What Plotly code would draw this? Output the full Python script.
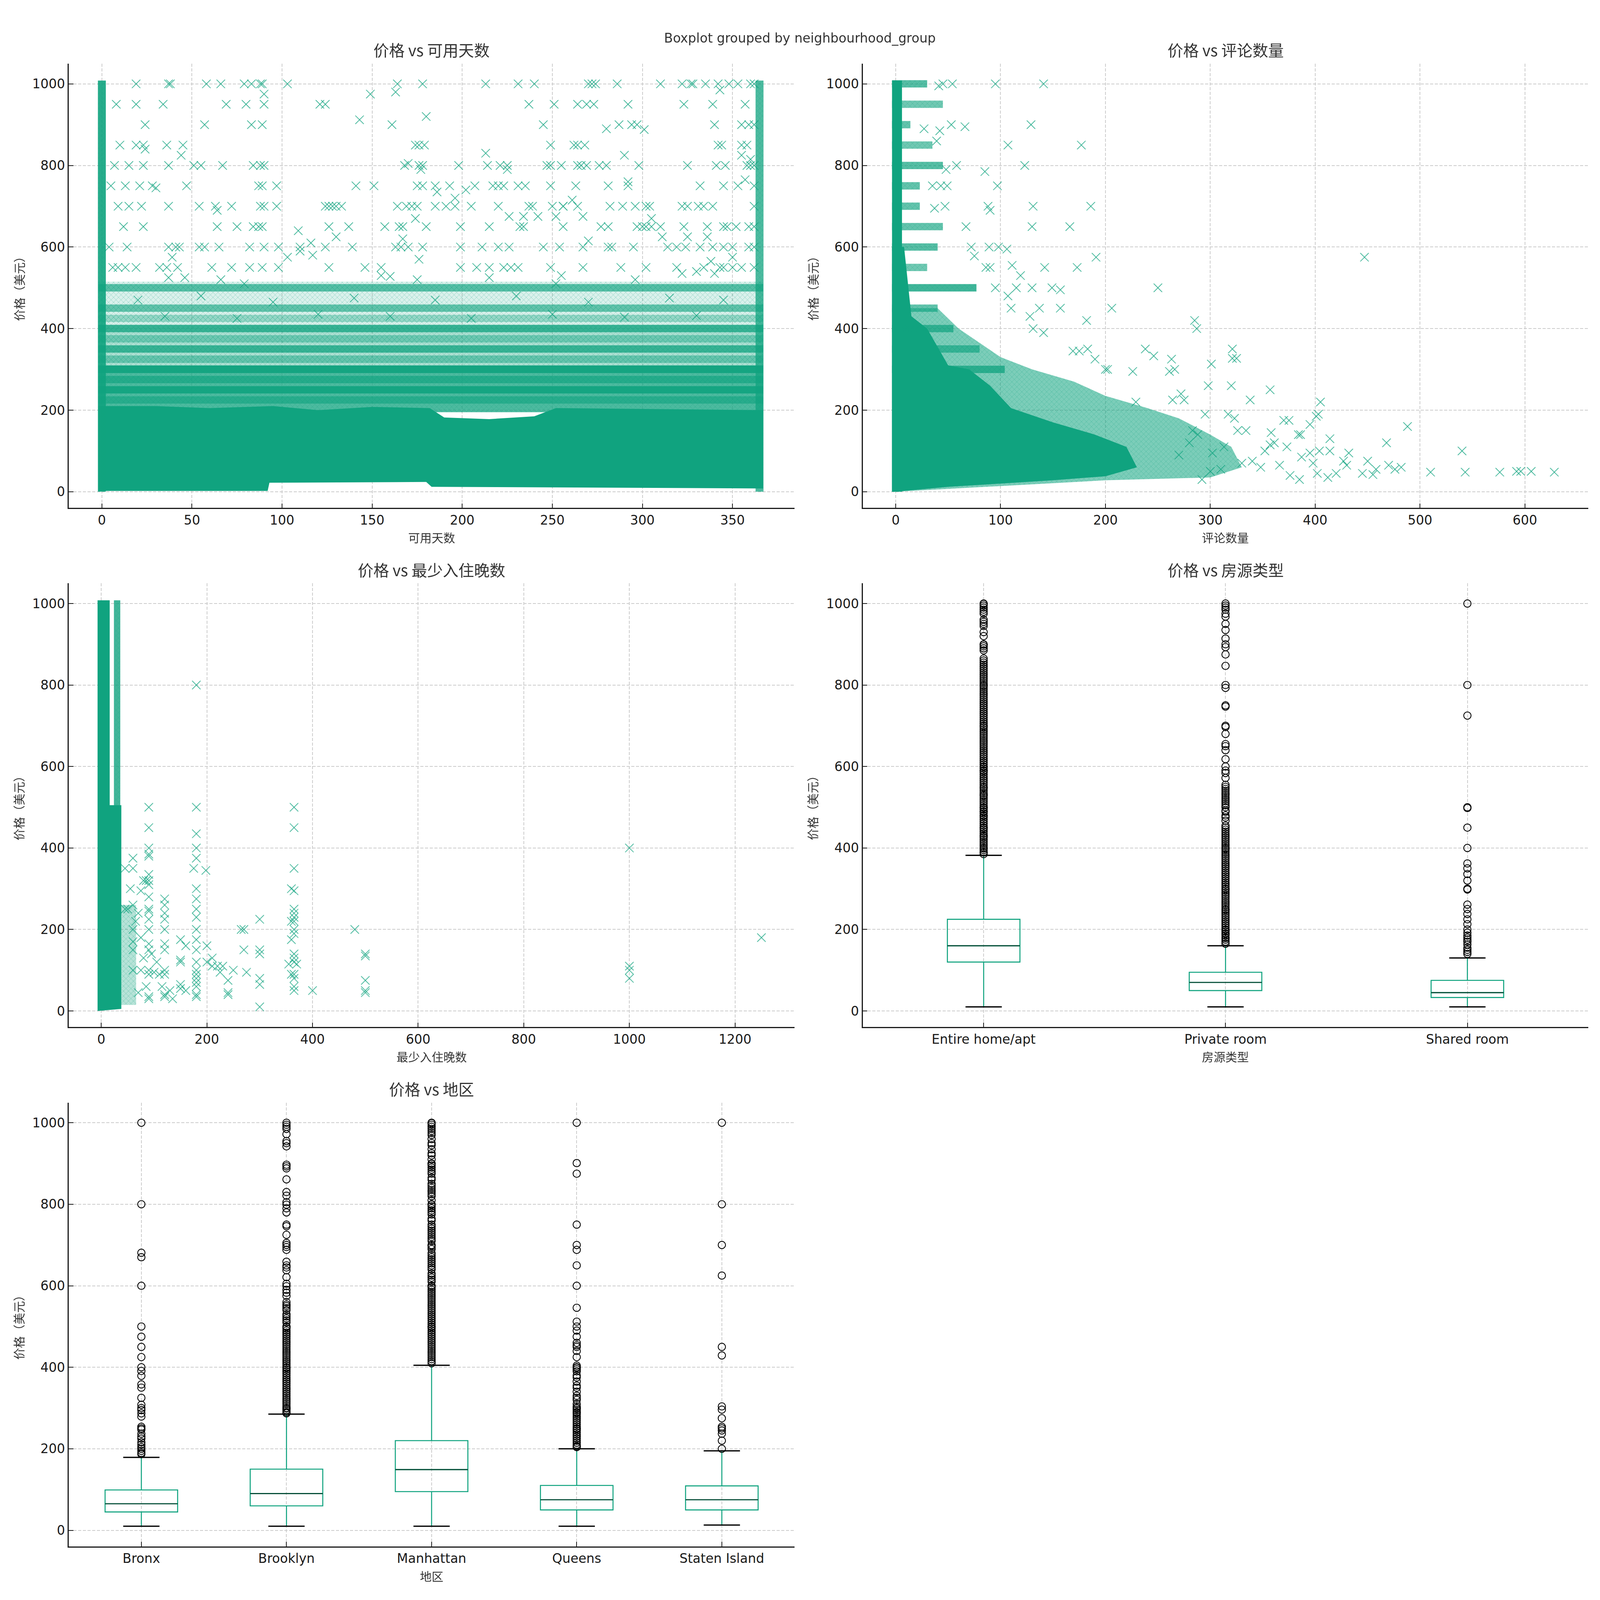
import plotly.graph_objects as go

GREEN = "#10A37F"
GREEN_RGB = "16,163,127"
MEDIAN = "#00452f"
INK = "#1a1a1a"
TITLE_INK = "#333333"
CJK = "Noto Sans CJK SC"

# ---------------- 价格 vs 可用天数 ----------------
# solid core of the cloud (availability_365, price)
avail_solid_days = [-2, 92, 93, 180, 183, 367, 367, 252, 240, 215, 190, 182, 150, 120, 95, 60, 30, -2]
avail_solid_price = [2, 2, 22, 24, 12, 8, 200, 205, 185, 178, 182, 205, 208, 200, 210, 205, 210, 210]
# dense but not solid layers
avail_layer_days = [[-2, 367, 367, -2]] * 3
avail_layer_price = [[195, 195, 310, 310], [305, 305, 410, 410], [410, 410, 515, 515]]
avail_layer_density = [0.75, 0.35, 0.15]
# price rows where many listings pile up
avail_band_price = [225, 250, 275, 300, 325, 350, 375, 400, 425, 450, 500]
avail_band_density = [0.6, 0.9, 0.65, 0.92, 0.45, 0.75, 0.4, 0.75, 0.35, 0.6, 0.65]
# availability values with listings at every price
avail_col_days = [0, 365]
avail_col_density = [0.9, 0.75]
# sparse points on round prices
avail_row_levels = [1000, 950, 900, 850, 800, 750, 700, 650, 600, 550]
avail_row_days = [
    [19, 37, 38, 58, 66, 79, 83, 88, 89, 103, 164, 178, 213, 231, 240, 270, 272, 274, 286, 310, 322, 327, 328,
     335, 342, 348, 353, 360, 362],
    [8, 19, 34, 69, 80, 90, 121, 124, 237, 251, 264, 269, 273, 292, 323, 339, 357],
    [24, 57, 83, 89, 161, 245, 287, 294, 297, 340, 355, 359, 362],
    [10, 19, 23, 36, 45, 174, 176, 179, 249, 262, 264, 268, 342, 344, 355, 358],
    [7, 15, 23, 37, 51, 55, 67, 84, 88, 90, 168, 176, 178, 198, 214, 221, 225, 247, 249, 255, 264, 266, 269, 276,
     280, 298, 325, 341, 346, 358, 360, 362],
    [5, 13, 21, 28, 47, 87, 89, 97, 141, 151, 175, 178, 185, 193, 207, 217, 220, 223, 231, 235, 249, 263, 281, 292,
     332, 345, 353, 362],
    [9, 15, 22, 37, 54, 63, 72, 88, 90, 97, 124, 126, 128, 130, 133, 164, 169, 172, 175, 185, 191, 196, 205, 220,
     237, 239, 250, 256, 264, 282, 289, 296, 302, 304, 322, 325, 331, 334, 339, 362],
    [12, 23, 64, 75, 84, 87, 89, 126, 137, 157, 165, 167, 180, 199, 215, 232, 234, 256, 277, 281, 297, 300, 302,
     305, 310, 323, 336, 345, 347, 352, 359, 362],
    [4, 14, 37, 41, 43, 54, 57, 65, 82, 90, 98, 110, 124, 139, 163, 166, 170, 178, 199, 211, 220, 226, 245, 254,
     267, 281, 283, 295, 314, 319, 324, 332, 339, 345, 350, 359, 362],
    [6, 9, 13, 19, 32, 36, 42, 61, 72, 82, 89, 98, 126, 146, 155, 199, 208, 215, 223, 227, 231, 249, 267, 288,
     302, 319, 334, 345, 350, 355, 362],
]
# sparse points off the round prices
avail_extra = [
    (149, 975), (163, 980), (343, 985), (90, 975), (143, 912), (180, 920), (280, 890), (301, 888),
    (213, 830), (290, 825), (44, 825), (355, 825), (360, 815), (170, 805), (225, 790), (177, 790), (24, 840),
    (186, 735), (202, 740), (196, 720), (261, 715), (256, 700), (357, 765), (292, 760), (30, 745),
    (226, 675), (234, 675), (242, 675), (252, 675), (267, 675), (305, 670), (109, 640), (130, 625),
    (311, 625), (336, 625), (167, 620), (64, 690), (174, 670), (39, 575), (110, 590), (103, 575),
    (116, 610), (270, 615), (325, 625), (350, 575), (343, 550), (338, 565), (330, 540), (117, 580),
    (176, 570), (46, 525), (37, 525), (66, 520), (79, 510), (155, 530), (160, 528), (175, 520),
    (215, 525), (255, 530), (252, 510), (296, 520), (322, 535), (340, 535),
    (20, 470), (55, 480), (95, 465), (140, 475), (185, 470), (230, 480), (270, 465), (315, 475), (345, 470),
    (35, 430), (75, 425), (120, 435), (160, 430), (205, 425), (250, 435), (290, 428), (330, 432),
]

# ---------------- 价格 vs 评论数量 ----------------
review_solid_count = [-3.5, 8, 15, 30, 50, 70, 90, 110, 150, 190, 220, 230, 200, 150, 100, 50, 0, -3.5]
review_solid_price = [600, 600, 430, 400, 310, 300, 260, 205, 170, 140, 110, 60, 38, 28, 20, 12, 0, 0]
review_hatch_count = [-3.5, 40, 60, 100, 130, 170, 200, 240, 270, 300, 320, 330, 300, 200, 0, -3.5]
review_hatch_price = [450, 450, 400, 330, 300, 270, 235, 205, 180, 140, 110, 60, 35, 28, 0, 0]
review_row_price = [1000, 950, 900, 850, 800, 750, 700, 650, 600, 550, 500, 450, 400, 350, 300]
review_row_end = [30, 45, 14, 35, 45, 23, 23, 45, 40, 30, 77, 40, 55, 80, 104]
review_row_density = [0.7, 0.6, 0.65, 0.6, 0.7, 0.65, 0.65, 0.65, 0.7, 0.6, 0.8, 0.65, 0.7, 0.65, 0.75]
review_points = [
    (95, 1000), (141, 1000), (54, 1000), (45, 1000), (41, 995),
    (129, 900), (53, 900), (66, 895), (27, 890), (42, 885),
    (107, 850), (177, 850), (39, 860), (123, 800), (85, 785), (58, 800), (48, 790),
    (97, 750), (49, 750), (43, 750), (35, 750), (131, 700), (186, 700), (88, 700), (90, 690), (47, 700),
    (37, 695), (130, 650), (166, 650), (67, 650), (191, 575), (447, 575), (89, 600), (98, 600), (106, 595),
    (72, 600), (75, 578), (111, 555), (142, 550), (173, 550), (86, 550), (90, 550), (119, 530),
    (250, 500), (157, 495), (149, 500), (130, 500), (115, 500), (107, 480), (95, 500),
    (206, 450), (157, 450), (137, 450), (110, 450), (182, 420), (285, 420), (287, 400), (141, 390),
    (131, 400), (128, 430), (238, 350), (321, 350), (246, 333), (321, 327), (325, 327), (263, 325),
    (183, 350), (169, 345), (175, 345), (301, 313), (200, 300), (202, 300), (226, 295), (266, 300),
    (261, 295), (190, 325), (298, 260), (320, 260), (357, 250), (338, 225), (275, 225), (229, 220),
    (264, 225), (272, 240), (405, 220), (403, 190), (401, 185), (395, 165), (358, 145), (370, 175),
    (375, 175), (326, 150), (334, 150), (317, 190), (323, 180), (488, 160), (468, 120), (414, 130),
    (386, 140), (384, 140), (361, 120), (404, 100), (414, 100), (432, 95), (540, 100),
    (510, 48), (543, 48), (576, 48), (592, 50), (596, 50), (606, 50), (628, 48),
    (445, 45), (455, 42), (458, 55), (470, 65), (476, 55), (482, 60), (450, 75), (427, 75), (430, 65),
    (420, 45), (412, 35), (402, 45), (385, 30), (376, 40), (366, 65), (387, 85), (352, 100), (340, 75),
    (330, 70), (348, 60), (395, 95), (398, 70), (373, 110), (357, 115), (292, 30), (300, 50), (310, 55),
    (313, 110), (302, 95), (288, 140), (283, 150), (295, 190), (280, 120), (270, 90),
]

# ---------------- 价格 vs 最少入住晚数 ----------------
nights_solid_min = [-7, -7, 16, 16, 38, 38, -7]
nights_solid_price = [0, 1008, 1008, 505, 505, 5, 0]
nights_hatch_min = [38, 66, 66, 38]
nights_hatch_price = [15, 15, 260, 260]
nights_col_min = [30]
nights_col_low = [500]
nights_col_high = [1008]
nights_points = [
    (180, 800), (90, 500), (180, 500), (365, 500), (90, 450), (365, 450), (180, 435), (90, 400),
    (180, 400), (90, 385), (90, 380), (180, 375), (1000, 400), (60, 375), (60, 350), (45, 350), (175, 350),
    (198, 345), (365, 350), (90, 335), (90, 320), (85, 320), (80, 320), (90, 310), (75, 295), (55, 300),
    (180, 300), (360, 300), (365, 295), (120, 275), (90, 280), (180, 275), (120, 260), (60, 260), (45, 250),
    (50, 250), (90, 250), (90, 245), (120, 240), (180, 250), (365, 250), (365, 240), (365, 230), (120, 225),
    (90, 225), (180, 230), (300, 225), (365, 220), (360, 220), (60, 200), (90, 200), (120, 200), (180, 200),
    (265, 200), (270, 200), (480, 200), (365, 200), (365, 190), (1250, 180), (150, 175), (180, 175),
    (360, 175), (160, 160), (200, 160), (120, 165), (90, 165), (60, 170), (60, 150), (90, 150), (120, 150),
    (180, 150), (270, 150), (300, 150), (300, 140), (500, 140), (500, 135), (365, 140), (365, 130),
    (365, 120), (355, 115), (370, 115), (150, 120), (150, 125), (180, 120), (200, 120), (210, 130),
    (220, 110), (225, 95), (230, 110), (250, 100), (275, 95), (210, 110), (1000, 110), (1000, 100),
    (1000, 80), (120, 100), (120, 90), (110, 90), (100, 95), (90, 100), (90, 90), (60, 100), (75, 100),
    (180, 100), (180, 90), (180, 80), (365, 90), (360, 90), (365, 80), (240, 75), (300, 80), (300, 65),
    (500, 75), (180, 70), (180, 60), (365, 60), (365, 50), (400, 50), (500, 50), (500, 45), (240, 45),
    (240, 40), (150, 65), (150, 55), (160, 50), (130, 50), (135, 30), (120, 40), (120, 35), (90, 35),
    (90, 30), (180, 40), (180, 35), (300, 10), (70, 240), (65, 220), (75, 180), (80, 130), (85, 60),
    (70, 45), (95, 140), (105, 120), (115, 60),
]

# ---------------- 价格 vs 房源类型 ----------------
room_types = ["Entire home/apt", "Private room", "Shared room"]
room_q1 = [120, 50, 33]
room_median = [160, 70, 45]
room_q3 = [225, 95, 75]
room_low = [10, 10, 10]
room_high = [382, 160, 130]
room_outliers = [
    [385, 389, 390, 395, 399, 400, 405, 410, 415, 420, 425, 429, 430, 435, 440, 445, 449, 450, 455, 460, 465,
     470, 475, 479, 480, 485, 489, 490, 495, 499, 500, 505, 510, 515, 520, 525, 529, 530, 535, 540, 545, 549,
     550, 555, 560, 565, 570, 575, 580, 585, 589, 590, 595, 599, 600, 605, 610, 615, 620, 625, 630, 635, 640,
     645, 650, 655, 660, 665, 670, 675, 680, 685, 690, 695, 699, 700, 705, 710, 715, 720, 725, 730, 735, 740,
     745, 750, 755, 760, 765, 770, 775, 780, 785, 790, 795, 799, 800, 805, 810, 815, 820, 825, 830, 835, 840,
     845, 850, 855, 860, 865, 885, 890, 895, 899, 900, 920, 930, 945, 950, 955, 960, 975, 980, 985, 990, 995,
     999, 1000],
    [165, 170, 175, 179, 180, 185, 189, 190, 195, 199, 200, 205, 210, 215, 220, 225, 230, 235, 240, 245, 249,
     250, 255, 260, 265, 270, 275, 280, 285, 290, 295, 299, 300, 305, 310, 315, 320, 325, 330, 335, 340, 345,
     350, 355, 360, 365, 370, 375, 380, 385, 390, 395, 399, 400, 405, 410, 415, 420, 425, 430, 435, 440, 445,
     450, 455, 467, 475, 480, 489, 492, 500, 505, 510, 515, 520, 525, 530, 535, 540, 545, 550, 555, 572, 584,
     590, 600, 618, 640, 650, 655, 680, 697, 700, 747, 750, 793, 800, 847, 875, 893, 900, 914, 935, 950, 968,
     975, 985, 990, 995, 1000],
    [140, 145, 150, 155, 163, 170, 175, 180, 185, 192, 200, 213, 225, 238, 250, 261, 298, 300, 320, 336, 350,
     362, 400, 450, 498, 500, 725, 800, 1000],
]

# ---------------- 价格 vs 地区 ----------------
hoods = ["Bronx", "Brooklyn", "Manhattan", "Queens", "Staten Island"]
hood_q1 = [45, 60, 95, 50, 50]
hood_median = [65, 90, 149, 75, 75]
hood_q3 = [99, 150, 220, 110, 109]
hood_low = [10, 10, 10, 10, 13]
hood_high = [179, 285, 405, 200, 195]
hood_outliers = [
    [187, 190, 195, 200, 204, 210, 216, 225, 230, 237, 247, 250, 254, 279, 287, 295, 300, 308, 325, 350, 358,
     379, 391, 400, 425, 450, 475, 500, 600, 670, 681, 800, 1000],
    [287, 290, 295, 299, 300, 305, 310, 315, 320, 325, 330, 335, 340, 345, 350, 355, 360, 365, 370, 375, 380,
     385, 390, 395, 399, 400, 405, 410, 415, 420, 425, 430, 435, 440, 445, 450, 455, 460, 465, 470, 475, 480,
     485, 490, 495, 499, 500, 510, 515, 520, 525, 530, 540, 545, 550, 554, 560, 575, 583, 590, 599, 605, 621,
     638, 645, 650, 659, 688, 695, 700, 705, 725, 746, 750, 780, 790, 799, 805, 821, 830, 861, 888, 893, 897,
     942, 950, 955, 972, 985, 990, 995, 1000],
    [410, 415, 420, 425, 430, 435, 440, 445, 450, 455, 460, 465, 470, 475, 480, 485, 490, 495, 499, 500, 505,
     510, 515, 520, 525, 530, 535, 540, 545, 550, 555, 560, 565, 570, 575, 580, 585, 590, 595, 599, 600, 610,
     615, 620, 625, 630, 640, 645, 650, 655, 660, 665, 670, 675, 680, 690, 695, 699, 700, 710, 715, 720, 725,
     730, 735, 740, 745, 750, 760, 765, 775, 780, 785, 790, 795, 799, 800, 810, 820, 825, 830, 835, 840, 845,
     850, 860, 865, 875, 880, 885, 890, 895, 899, 900, 910, 920, 925, 935, 945, 950, 960, 970, 975, 980, 985,
     990, 995, 999, 1000],
    [204, 206, 210, 215, 220, 225, 230, 235, 240, 245, 249, 250, 255, 260, 265, 270, 275, 280, 285, 289, 290,
     295, 299, 300, 304, 310, 320, 325, 330, 340, 350, 355, 365, 375, 380, 390, 395, 399, 400, 404, 425, 440,
     450, 454, 460, 475, 490, 500, 512, 546, 600, 650, 688, 700, 750, 875, 901, 1000],
    [200, 220, 237, 245, 250, 254, 275, 296, 304, 429, 450, 625, 700, 800, 1000],
]

# ---------------- geometry ----------------
# the page is shown in a 4096 x 4096 viewport; sizes below are the reference's
# 6000 x 5400 pixel sizes scaled to it
W, H = 4096, 4096
SX, SY = W / 6000, H / 5400
S = (SX + SY) / 2
COL_X = [[0.0430, 0.4965], [0.5392, 0.9927]]
ROW_Y = [[0.6826, 0.9602], [0.3581, 0.6354], [0.0335, 0.3109]]
HALF_MARK = 9  # half height of an x marker, in price units

fig = go.Figure()

MARK = dict(symbol="x-thin", size=30 * S, color=GREEN, line=dict(width=2.3 * S, color=GREEN))


def add_solid(xs, ys, xa, ya):
    fig.add_trace(go.Scatter(x=xs, y=ys, mode="lines", fill="toself", fillcolor=GREEN,
                             line=dict(width=0, color=GREEN), xaxis=xa, yaxis=ya,
                             hoverinfo="skip", showlegend=False))


def add_dense(xs, ys, xa, ya, density):
    # region covered by many overlapping x markers: a tinted fill with a light x texture
    fig.add_trace(go.Scatter(x=xs, y=ys, mode="lines", fill="toself",
                             fillcolor=f"rgba({GREEN_RGB},{density})",
                             fillpattern=dict(shape="x", fgcolor=GREEN, bgcolor=f"rgba({GREEN_RGB},{density})",
                                              size=9, solidity=0.15),
                             line=dict(width=0, color=GREEN), xaxis=xa, yaxis=ya,
                             hoverinfo="skip", showlegend=False))


def add_row(x0, x1, price, xa, ya, density):
    add_dense([x0, x1, x1, x0], [price - HALF_MARK, price - HALF_MARK, price + HALF_MARK, price + HALF_MARK],
              xa, ya, density)


def add_points(xs, ys, xa, ya):
    fig.add_trace(go.Scatter(x=xs, y=ys, mode="markers", marker=MARK, opacity=0.9,
                             xaxis=xa, yaxis=ya, showlegend=False))


# panel 1
for d, p, so in zip(avail_layer_days, avail_layer_price, avail_layer_density):
    add_dense(d, p, "x", "y", so)
add_solid(avail_solid_days, avail_solid_price, "x", "y")
for p, a in zip(avail_band_price, avail_band_density):
    add_row(-2, 367, p, "x", "y", a)
for d, a in zip(avail_col_days, avail_col_density):
    add_dense([d - 2.2, d + 2.2, d + 2.2, d - 2.2], [0, 0, 1008, 1008], "x", "y", a)
px1, py1 = [], []
for level, days in zip(avail_row_levels, avail_row_days):
    px1 += days
    py1 += [level] * len(days)
px1 += [p[0] for p in avail_extra]
py1 += [p[1] for p in avail_extra]
add_points(px1, py1, "x", "y")

# panel 2
add_dense(review_hatch_count, review_hatch_price, "x2", "y2", 0.55)
add_solid(review_solid_count, review_solid_price, "x2", "y2")
for p, e, so in zip(review_row_price, review_row_end, review_row_density):
    add_row(-3.5, e, p, "x2", "y2", so)
add_solid([-3.5, 6, 6, -3.5], [0, 0, 1008, 1008], "x2", "y2")
add_points([p[0] for p in review_points], [p[1] for p in review_points], "x2", "y2")

# panel 3
add_dense(nights_hatch_min, nights_hatch_price, "x3", "y3", 0.3)
add_solid(nights_solid_min, nights_solid_price, "x3", "y3")
for m, lo, hi in zip(nights_col_min, nights_col_low, nights_col_high):
    add_dense([m - 6, m + 6, m + 6, m - 6], [lo, lo, hi, hi], "x3", "y3", 0.8)
add_points([p[0] for p in nights_points], [p[1] for p in nights_points], "x3", "y3")


def add_boxes(names, q1, med, q3, low, high, outliers, width, xa, ya):
    pos = list(range(1, len(names) + 1))
    fig.add_trace(go.Box(x=pos, q1=q1, median=med, q3=q3, lowerfence=low, upperfence=high,
                         boxpoints=False, width=width, whiskerwidth=0,
                         line=dict(color=GREEN, width=3.6 * S), fillcolor="rgba(0,0,0,0)",
                         xaxis=xa, yaxis=ya, showlegend=False))
    mx, my, cx, cy, ox, oy = [], [], [], [], [], []
    for i, p in enumerate(pos):
        mx += [p - width / 2, p + width / 2, None]
        my += [med[i], med[i], None]
        for v in (low[i], high[i]):
            cx += [p - width / 4, p + width / 4, None]
            cy += [v, v, None]
        ox += [p] * len(outliers[i])
        oy += outliers[i]
    fig.add_trace(go.Scatter(x=mx, y=my, mode="lines", line=dict(color=MEDIAN, width=3.6 * S),
                             xaxis=xa, yaxis=ya, showlegend=False))
    fig.add_trace(go.Scatter(x=cx, y=cy, mode="lines", line=dict(color="black", width=4.5 * S),
                             xaxis=xa, yaxis=ya, showlegend=False))
    fig.add_trace(go.Scatter(x=ox, y=oy, mode="markers",
                             marker=dict(symbol="circle-open", size=26 * S, color="black",
                                         line=dict(width=3 * S, color="black")),
                             xaxis=xa, yaxis=ya, showlegend=False))


add_boxes(room_types, room_q1, room_median, room_q3, room_low, room_high, room_outliers, 0.3, "x4", "y4")
add_boxes(hoods, hood_q1, hood_median, hood_q3, hood_low, hood_high, hood_outliers, 0.5, "x5", "y5")

TICK = round(48 * SX)


def axis(domain, rng, anchor, **kw):
    d = dict(domain=domain, range=rng, anchor=anchor, showline=True, linecolor=INK, linewidth=4 * S,
             ticks="inside", ticklen=16 * S, tickwidth=3.2 * S, tickcolor=INK, showgrid=True,
             gridcolor="#cccccc", gridwidth=2.4 * S, griddash="8px,4px", zeroline=False,
             tickfont=dict(family="DejaVu Sans", size=TICK, color=INK))
    d.update(kw)
    return d


yticks = dict(tickmode="array", tickvals=[0, 200, 400, 600, 800, 1000])
panels = [
    ("x", "y", COL_X[0], ROW_Y[0], [-18.35, 384.35], dict(tickvals=[0, 50, 100, 150, 200, 250, 300, 350])),
    ("x2", "y2", COL_X[1], ROW_Y[0], [-31.45, 660.45], dict(tickvals=[0, 100, 200, 300, 400, 500, 600])),
    ("x3", "y3", COL_X[0], ROW_Y[1], [-61.45, 1312.45], dict(tickvals=[0, 200, 400, 600, 800, 1000, 1200])),
    ("x4", "y4", COL_X[1], ROW_Y[1], [0.5, 3.5], dict(tickvals=[1, 2, 3], ticktext=room_types)),
    ("x5", "y5", COL_X[0], ROW_Y[2], [0.5, 5.5], dict(tickvals=[1, 2, 3, 4, 5], ticktext=hoods)),
]
titles = ["价格 vs 可用天数", "价格 vs 评论数量", "价格 vs 最少入住晚数", "价格 vs 房源类型", "价格 vs 地区"]
xlabels = ["可用天数", "评论数量", "最少入住晚数", "房源类型", "地区"]

layout = dict(width=W, height=H, margin=dict(l=0, r=0, t=0, b=0), plot_bgcolor="white",
              paper_bgcolor="white", showlegend=False)
annotations = []
for (xa, ya, xd, yd, xr, xt), title, xl in zip(panels, titles, xlabels):
    xkey = "xaxis" + xa[1:]
    ykey = "yaxis" + ya[1:]
    layout[xkey] = axis(xd, xr, ya, tickmode="array", **xt)
    layout[ykey] = axis(yd, [-39.5, 1049.5], xa, **yticks)
    xc = (xd[0] + xd[1]) / 2
    annotations.append(dict(text=title, x=xc, y=yd[1] + 47 / 5400, xref="paper", yref="paper",
                            xanchor="center", yanchor="middle", showarrow=False,
                            font=dict(family=CJK, size=round(58 * SX), color=TITLE_INK)))
    annotations.append(dict(text=xl, x=xc, y=yd[0] - 99 / 5400, xref="paper", yref="paper",
                            xanchor="center", yanchor="middle", showarrow=False,
                            font=dict(family=CJK, size=round(44 * SX), color=TITLE_INK)))
    annotations.append(dict(text="价格（美元）", x=xd[0] - 189 / 6000, y=(yd[0] + yd[1]) / 2,
                            xref="paper", yref="paper", xanchor="center", yanchor="middle",
                            textangle=-90, showarrow=False,
                            font=dict(family=CJK, size=round(44 * SX), color=TITLE_INK)))
annotations.append(dict(text="Boxplot grouped by neighbourhood_group", x=0.5, y=1 - 128 / 5400,
                        xref="paper", yref="paper", xanchor="center", yanchor="middle",
                        showarrow=False, font=dict(family="DejaVu Sans", size=TICK, color=TITLE_INK)))
layout["annotations"] = annotations
fig.update_layout(**layout)

fig.write_html("out.html", config={"displayModeBar": False},
               post_script="document.body.style.margin='0';")
